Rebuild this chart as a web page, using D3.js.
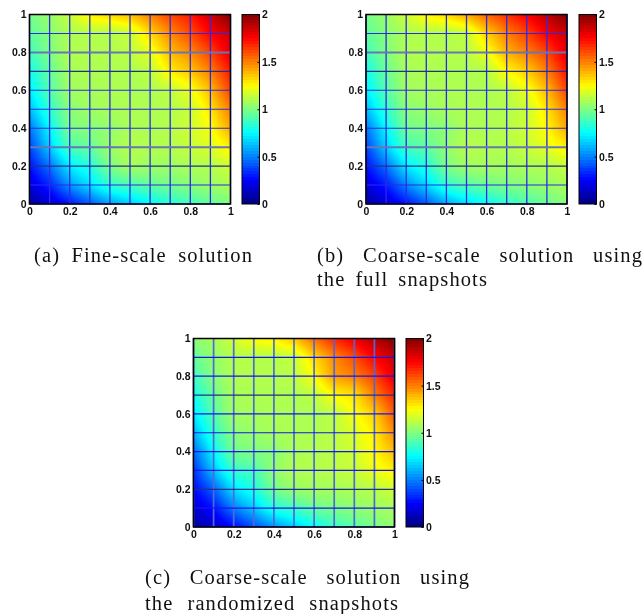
<!DOCTYPE html>
<html>
<head>
<meta charset="utf-8">
<script src="https://cdn.jsdelivr.net/npm/d3@7"></script>
<style>
body { margin: 0; background: #fff; }
#chart { position: relative; width: 644px; height: 614px; overflow: hidden; }
canvas, svg { position: absolute; left: 0; top: 0; }
.tick text { font-family: "Liberation Sans", sans-serif; font-weight: bold; font-size: 10.5px; fill: #111; }
.caption { font-family: "Liberation Serif", serif; font-size: 20.5px; letter-spacing: 1.1px; fill: #111; }
</style>
</head>
<body>
<div id="chart"></div>
<script>
// node values on the 11x11 grid, first row is y=1, last row is y=0
const fineValues = [
  [.98,1.05,1.14,1.28,1.33,1.38,1.50,1.62,1.70,1.85,2.00],
  [.93,1.02,1.09,1.10,1.10,1.14,1.32,1.48,1.60,1.75,1.85],
  [.88,1.00,1.10,1.10,1.10,1.12,1.20,1.38,1.48,1.62,1.80],
  [.78,.95,1.08,1.09,1.09,1.09,1.12,1.28,1.36,1.50,1.70],
  [.72,.92,1.07,1.08,1.09,1.09,1.09,1.13,1.22,1.38,1.62],
  [.62,.85,1.02,1.06,1.08,1.09,1.09,1.10,1.14,1.30,1.50],
  [.48,.75,1.00,1.02,1.04,1.09,1.09,1.11,1.16,1.24,1.42],
  [.38,.66,.90,.95,1.06,1.10,1.10,1.10,1.14,1.18,1.28],
  [.28,.48,.72,.82,1.00,1.08,1.06,1.06,1.09,1.10,1.16],
  [.18,.32,.55,.70,.85,.90,.95,.98,1.02,1.06,1.09],
  [.06,.16,.28,.42,.56,.65,.74,.83,.88,.94,1.00]
];
const fullValues = [
  [.98,1.05,1.15,1.27,1.32,1.42,1.55,1.66,1.76,1.88,2.00],
  [.93,1.02,1.09,1.10,1.10,1.13,1.34,1.50,1.62,1.76,1.86],
  [.88,1.00,1.10,1.10,1.10,1.11,1.22,1.40,1.50,1.62,1.80],
  [.78,.96,1.08,1.09,1.09,1.09,1.10,1.26,1.34,1.50,1.72],
  [.72,.92,1.07,1.08,1.09,1.09,1.09,1.12,1.22,1.38,1.62],
  [.62,.85,1.02,1.05,1.08,1.09,1.09,1.10,1.14,1.30,1.50],
  [.48,.75,.98,1.00,1.03,1.09,1.09,1.11,1.16,1.26,1.42],
  [.38,.66,.88,.93,1.04,1.11,1.10,1.10,1.14,1.20,1.28],
  [.28,.48,.72,.82,1.00,1.07,1.08,1.07,1.09,1.10,1.14],
  [.18,.30,.52,.68,.85,.92,.97,1.00,1.02,1.05,1.08],
  [.06,.16,.28,.42,.58,.68,.76,.84,.90,.96,1.02]
];
const randomizedValues = [
  [1.02,1.08,1.16,1.25,1.28,1.36,1.54,1.68,1.78,1.90,2.00],
  [.95,1.04,1.10,1.10,1.10,1.14,1.32,1.48,1.60,1.75,1.85],
  [.88,1.02,1.10,1.10,1.10,1.12,1.25,1.44,1.50,1.62,1.80],
  [.78,.96,1.08,1.09,1.09,1.09,1.12,1.26,1.30,1.50,1.68],
  [.72,.92,1.07,1.08,1.09,1.09,1.09,1.12,1.24,1.34,1.58],
  [.60,.85,1.02,1.05,1.08,1.09,1.09,1.12,1.18,1.28,1.48],
  [.46,.75,.98,1.00,1.02,1.09,1.10,1.12,1.16,1.26,1.38],
  [.34,.64,.86,.90,1.04,1.10,1.10,1.12,1.14,1.22,1.28],
  [.26,.44,.70,.80,.98,1.05,1.07,1.07,1.09,1.11,1.16],
  [.16,.28,.50,.65,.82,.88,.96,1.00,1.03,1.06,1.08],
  [.06,.14,.26,.40,.54,.65,.76,.86,.92,.98,1.04]
];
const gridTicks = [0, .1, .2, .3, .4, .5, .6, .7, .8, .9, 1];
const axisTicks = [0, .2, .4, .6, .8, 1];
const barTicks = [0, .5, 1, 1.5, 2];
const jetStops = ["#00007f", "#0000ff", "#00ffff", "#ffff00", "#ff0000", "#7f0000"];
const jetDomain = [0, .25, .75, 1.25, 1.75, 2];

// the rasterised original leaves some mesh lines greyer or darker than others
const greyRows = d => d === .8 || d === .3;
const darkRows = d => d === .7 || d === .2;
const meshA = {
  v: () => ({ c: "#2a2ae6", w: 1.3 }),
  h: d => greyRows(d) ? { c: "#6678b4", w: 2 } : darkRows(d) ? { c: "#22308a", w: 1.1 } : { c: "#2a2ae6", w: 1.1 }
};
const meshC = {
  v: () => ({ c: "#4f6ad8", w: 1.7 }),
  h: d => darkRows(d) ? { c: "#22308a", w: 1.2 } : { c: "#1414f0", w: 1.2 }
};

const panels = [
  { values: fineValues, mesh: meshA, x0: 29.5, x1: 230.5, y0: 14.5, y1: 204, bar: 242,
    lines: [{ text: "(a) Fine-scale solution", x: 34, y: 262, w: 219 }] },
  { values: fullValues, mesh: meshA, x0: 366, x1: 567, y0: 14.5, y1: 204, bar: 579,
    lines: [{ text: "(b) Coarse-scale solution using", x: 317, y: 262, w: 326 },
            { text: "the full snapshots", x: 317, y: 286, w: 171 }] },
  { values: randomizedValues, mesh: meshC, x0: 193.5, x1: 394.5, y0: 338.5, y1: 527, bar: 406,
    lines: [{ text: "(c) Coarse-scale solution using", x: 145, y: 584, w: 325 },
            { text: "the randomized snapshots", x: 145, y: 610, w: 254 }] }
];

const color = d3.scaleLinear().domain(jetDomain).range(jetStops).clamp(true);

const chart = d3.select("#chart");
const canvas = chart.append("canvas").attr("width", 644).attr("height", 614);
const ctx = canvas.node().getContext("2d");
const svg = chart.append("svg").attr("width", 644).attr("height", 614);

panels.forEach(p => {
  const x = d3.scaleLinear().domain([0, 1]).range([p.x0, p.x1]);
  const y = d3.scaleLinear().domain([0, 1]).range([p.y1, p.y0]);
  const n = p.values.length - 1;

  // interpolated shading between the grid nodes
  for (let py = Math.floor(p.y0); py < p.y1; py++) {
    for (let px = Math.floor(p.x0); px < p.x1; px++) {
      const u = Math.min(Math.max(x.invert(px + .5), 0), 1) * n;
      const v = (1 - Math.min(Math.max(y.invert(py + .5), 0), 1)) * n;
      const i = Math.min(Math.floor(u), n - 1), j = Math.min(Math.floor(v), n - 1);
      const fu = u - i, fv = v - j;
      const val = p.values[j][i] * (1 - fu) * (1 - fv) + p.values[j][i + 1] * fu * (1 - fv)
        + p.values[j + 1][i] * (1 - fu) * fv + p.values[j + 1][i + 1] * fu * fv;
      ctx.fillStyle = color(val);
      ctx.fillRect(px, py, 1, 1);
    }
  }

  const g = svg.append("g");

  // blue mesh
  g.selectAll("line.vmesh").data(gridTicks).join("line").attr("class", "vmesh")
    .attr("x1", d => x(d)).attr("x2", d => x(d)).attr("y1", p.y0).attr("y2", p.y1)
    .attr("stroke", d => p.mesh.v(d).c).attr("stroke-width", d => p.mesh.v(d).w);
  g.selectAll("line.hmesh").data(gridTicks).join("line").attr("class", "hmesh")
    .attr("y1", d => y(d)).attr("y2", d => y(d)).attr("x1", p.x0).attr("x2", p.x1)
    .attr("stroke", d => p.mesh.h(d).c).attr("stroke-width", d => p.mesh.h(d).w);

  // axes
  const xAxis = d3.axisBottom(x).tickValues(axisTicks).tickFormat(d3.format("~g")).tickSize(0).tickPadding(4);
  const yAxis = d3.axisLeft(y).tickValues(axisTicks).tickFormat(d3.format("~g")).tickSize(0).tickPadding(3);
  g.append("g").attr("transform", `translate(0,${p.y1})`).call(xAxis).call(a => a.select(".domain").remove());
  g.append("g").attr("transform", `translate(${p.x0},0)`).call(yAxis).call(a => a.select(".domain").remove());
  g.append("rect").attr("x", p.x0).attr("y", p.y0).attr("width", p.x1 - p.x0).attr("height", p.y1 - p.y0)
    .attr("fill", "none").attr("stroke", "#000").attr("stroke-width", 1.5);

  // colorbar, 64 levels like the jet map
  const barW = 17.5;
  const barY = d3.scaleLinear().domain([0, 2]).range([p.y1, p.y0]);
  const levels = d3.range(64);
  g.selectAll("rect.level").data(levels).join("rect").attr("class", "level")
    .attr("shape-rendering", "crispEdges")
    .attr("x", p.bar).attr("width", barW)
    .attr("y", d => Math.round(barY((d + 1) / 32)))
    .attr("height", d => Math.round(barY(d / 32)) - Math.round(barY((d + 1) / 32)))
    .attr("fill", d => color((d + .5) / 32));
  const barAxis = d3.axisRight(barY).tickValues(barTicks).tickFormat(d3.format("~g")).tickSize(-2).tickPadding(2.5);
  g.append("g").attr("transform", `translate(${p.bar + barW},0)`).call(barAxis)
    .call(a => a.select(".domain").remove())
    .call(a => a.selectAll(".tick line").attr("stroke", "#000"));
  g.append("rect").attr("x", p.bar).attr("y", p.y0).attr("width", barW).attr("height", p.y1 - p.y0)
    .attr("fill", "none").attr("stroke", "#000").attr("stroke-width", 1);

  // caption, stretched between the words like the justified lines
  p.lines.forEach(l => {
    const t = svg.append("text").attr("class", "caption").attr("x", l.x).attr("y", l.y).text(l.text);
    const gaps = l.text.split(" ").length - 1;
    const extra = (l.w - t.node().getComputedTextLength()) / gaps;
    t.style("word-spacing", extra + "px");
  });
});
</script>
</body>
</html>
